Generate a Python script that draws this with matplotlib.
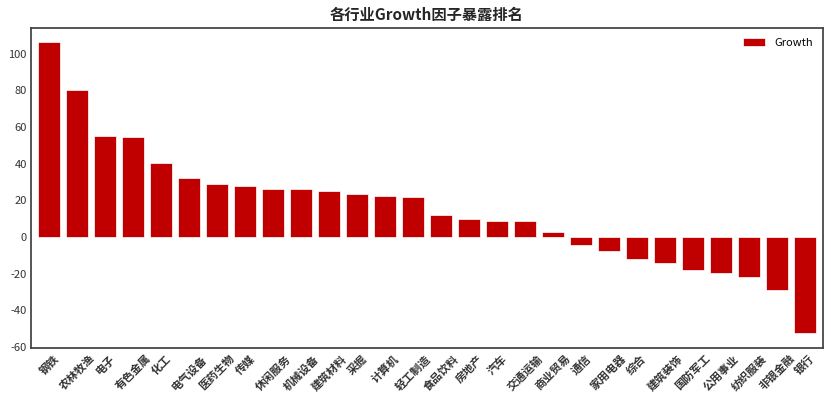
import matplotlib
matplotlib.use("Agg")
import matplotlib.pyplot as plt
import numpy as np

plt.rcParams["font.family"] = ["Noto Sans CJK SC", "DejaVu Sans"]
plt.rcParams["axes.unicode_minus"] = False

industries = ["钢铁", "农林牧渔", "电子", "有色金属", "化工", "电气设备", "医药生物",
              "传媒", "休闲服务", "机械设备", "建筑材料", "采掘", "计算机", "轻工制造",
              "食品饮料", "房地产", "汽车", "交通运输", "商业贸易", "通信", "家用电器",
              "综合", "建筑装饰", "国防军工", "公用事业", "纺织服装", "非银金融", "银行"]
growth = [106.1, 80.4, 55.2, 54.6, 40.5, 32.3, 28.9, 27.8, 26.3, 26.3, 25.0, 23.6,
          22.5, 21.8, 12.2, 9.6, 8.9, 8.9, 2.6, -4.5, -7.6, -12.1, -14.1, -18.0,
          -19.4, -21.9, -29.0, -52.6]

fig = plt.figure(figsize=(8.31, 4.05), dpi=100)
ax = fig.add_axes([0.0373, 0.1407, 0.9530, 0.7903])

x = np.arange(len(industries))
ax.bar(x, growth, width=0.8, color="#C00000", edgecolor="white", linewidth=0.5,
       label="Growth")

ax.set_xlim(-0.65, len(industries) - 0.35)
ax.margins(y=0.05)
ax.set_xticks(x)
ax.set_xticklabels(industries, rotation=45, ha="center", fontsize=8, fontweight="bold",
                   color="#333333")
ax.tick_params(axis="both", length=0, pad=3, labelsize=8, colors="#333333")
for sp in ax.spines.values():
    sp.set_color("#404040")
    sp.set_linewidth(1.25)

ax.set_title("各行业Growth因子暴露排名", fontsize=11, fontweight="bold", color="#262626")
ax.legend(loc="upper right", frameon=False, fontsize=8)

fig.savefig("out.png", dpi=100)
